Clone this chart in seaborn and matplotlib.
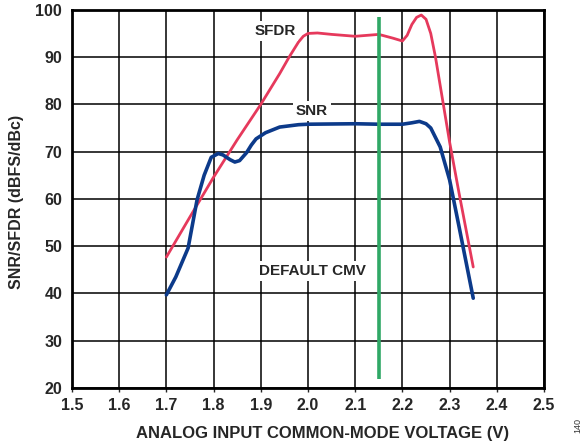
import numpy as np
import pandas as pd
import matplotlib
matplotlib.use('Agg')
import matplotlib.pyplot as plt
import seaborn as sns

# values
sfdr_x = [1.70, 1.75, 1.80, 1.85, 1.90, 1.94, 1.96, 1.98, 1.99, 2.00, 2.02, 2.05,
          2.10, 2.15, 2.18, 2.20, 2.21, 2.22, 2.23, 2.24, 2.25, 2.26, 2.27, 2.28,
          2.30, 2.32, 2.35]
sfdr_y = [47.7, 56.2, 64.6, 72.5, 80.0, 86.5, 90.0, 93.2, 94.4, 95.0, 95.1, 94.8,
          94.4, 94.8, 94.0, 93.4, 94.6, 96.9, 98.4, 98.9, 98.0, 95.0, 90.0, 84.0,
          72.0, 61.2, 45.6]

snr_x = [1.70, 1.72, 1.746, 1.765, 1.78, 1.795, 1.81, 1.82, 1.835, 1.845, 1.855,
         1.87, 1.88, 1.89, 1.91, 1.94, 1.98, 2.00, 2.10, 2.15, 2.20, 2.22, 2.236,
         2.25, 2.26, 2.28, 2.30, 2.32, 2.35]
snr_y = [39.7, 43.5, 49.6, 59.8, 65.0, 68.8, 69.6, 69.3, 68.3, 67.8, 68.1,
         69.8, 71.4, 72.7, 74.0, 75.2, 75.7, 75.8, 75.9, 75.8, 75.8, 76.1, 76.4,
         75.9, 75.0, 71.0, 64.0, 54.1, 39.0]

cmv_x = [2.15, 2.15]
cmv_y = [22.0, 98.5]

x_ticks = [1.5, 1.6, 1.7, 1.8, 1.9, 2.0, 2.1, 2.2, 2.3, 2.4, 2.5]
y_ticks = [20, 30, 40, 50, 60, 70, 80, 90, 100]

sns.set_style('white')
plt.rcParams['font.family'] = ['Liberation Sans', 'DejaVu Sans']
plt.rcParams['font.weight'] = 'bold'

fig = plt.figure(figsize=(5.85, 4.46), dpi=100)
ax = fig.add_axes([0.123, 0.130, 0.807, 0.848])

ax.grid(True, color='black', linewidth=1.1)
ax.set_axisbelow(True)

df_sfdr = pd.DataFrame({'x': sfdr_x, 'y': sfdr_y})
df_snr = pd.DataFrame({'x': snr_x, 'y': snr_y})
sns.lineplot(data=df_sfdr, x='x', y='y', ax=ax, color='#e6395c', linewidth=2.0, sort=False)
sns.lineplot(data=df_snr, x='x', y='y', ax=ax, color='#0c3a8a', linewidth=2.6, sort=False)
ax.plot(cmv_x, cmv_y, color='#2fa866', linewidth=2.6, solid_capstyle='butt')

box = dict(facecolor='white', edgecolor='none', pad=2)
ax.text(1.93, 95.5, 'SFDR', ha='center', va='center', fontsize=11, fontweight='bold', bbox=box)
ax.text(2.008, 78.6, 'SNR', ha='center', va='center', fontsize=11, fontweight='bold', bbox=box)
ax.text(2.01, 44.8, 'DEFAULT CMV', ha='center', va='center', fontsize=11, fontweight='bold', bbox=box)

ax.set_xlim(1.5, 2.5)
ax.set_ylim(20, 100)
ax.set_xticks(x_ticks)
ax.set_xticklabels([f'{v:.1f}' for v in x_ticks])
ax.set_yticks(y_ticks)
ax.set_yticklabels([str(v) for v in y_ticks])
ax.tick_params(axis='both', labelsize=11.5, length=3, width=1, direction='out',
               bottom=True, left=False, pad=4)
for lab in ax.get_xticklabels() + ax.get_yticklabels():
    lab.set_fontweight('bold')

for s in ax.spines.values():
    s.set_color('black')
    s.set_linewidth(2.0)

ax.set_xlabel('ANALOG INPUT COMMON-MODE VOLTAGE (V)', fontsize=12, fontweight='bold')
ax.set_ylabel('SNR/SFDR (dBFS/dBc)', fontsize=11.5, fontweight='bold')
ax.xaxis.set_label_coords(0.53, -0.10)
ax.yaxis.set_label_coords(-0.102, 0.493)

fig.text(0.988, 0.045, '140', rotation=90, fontsize=6.5, fontweight='normal',
         ha='center', va='center', color='#333333')

fig.savefig('out.png', dpi=100)
